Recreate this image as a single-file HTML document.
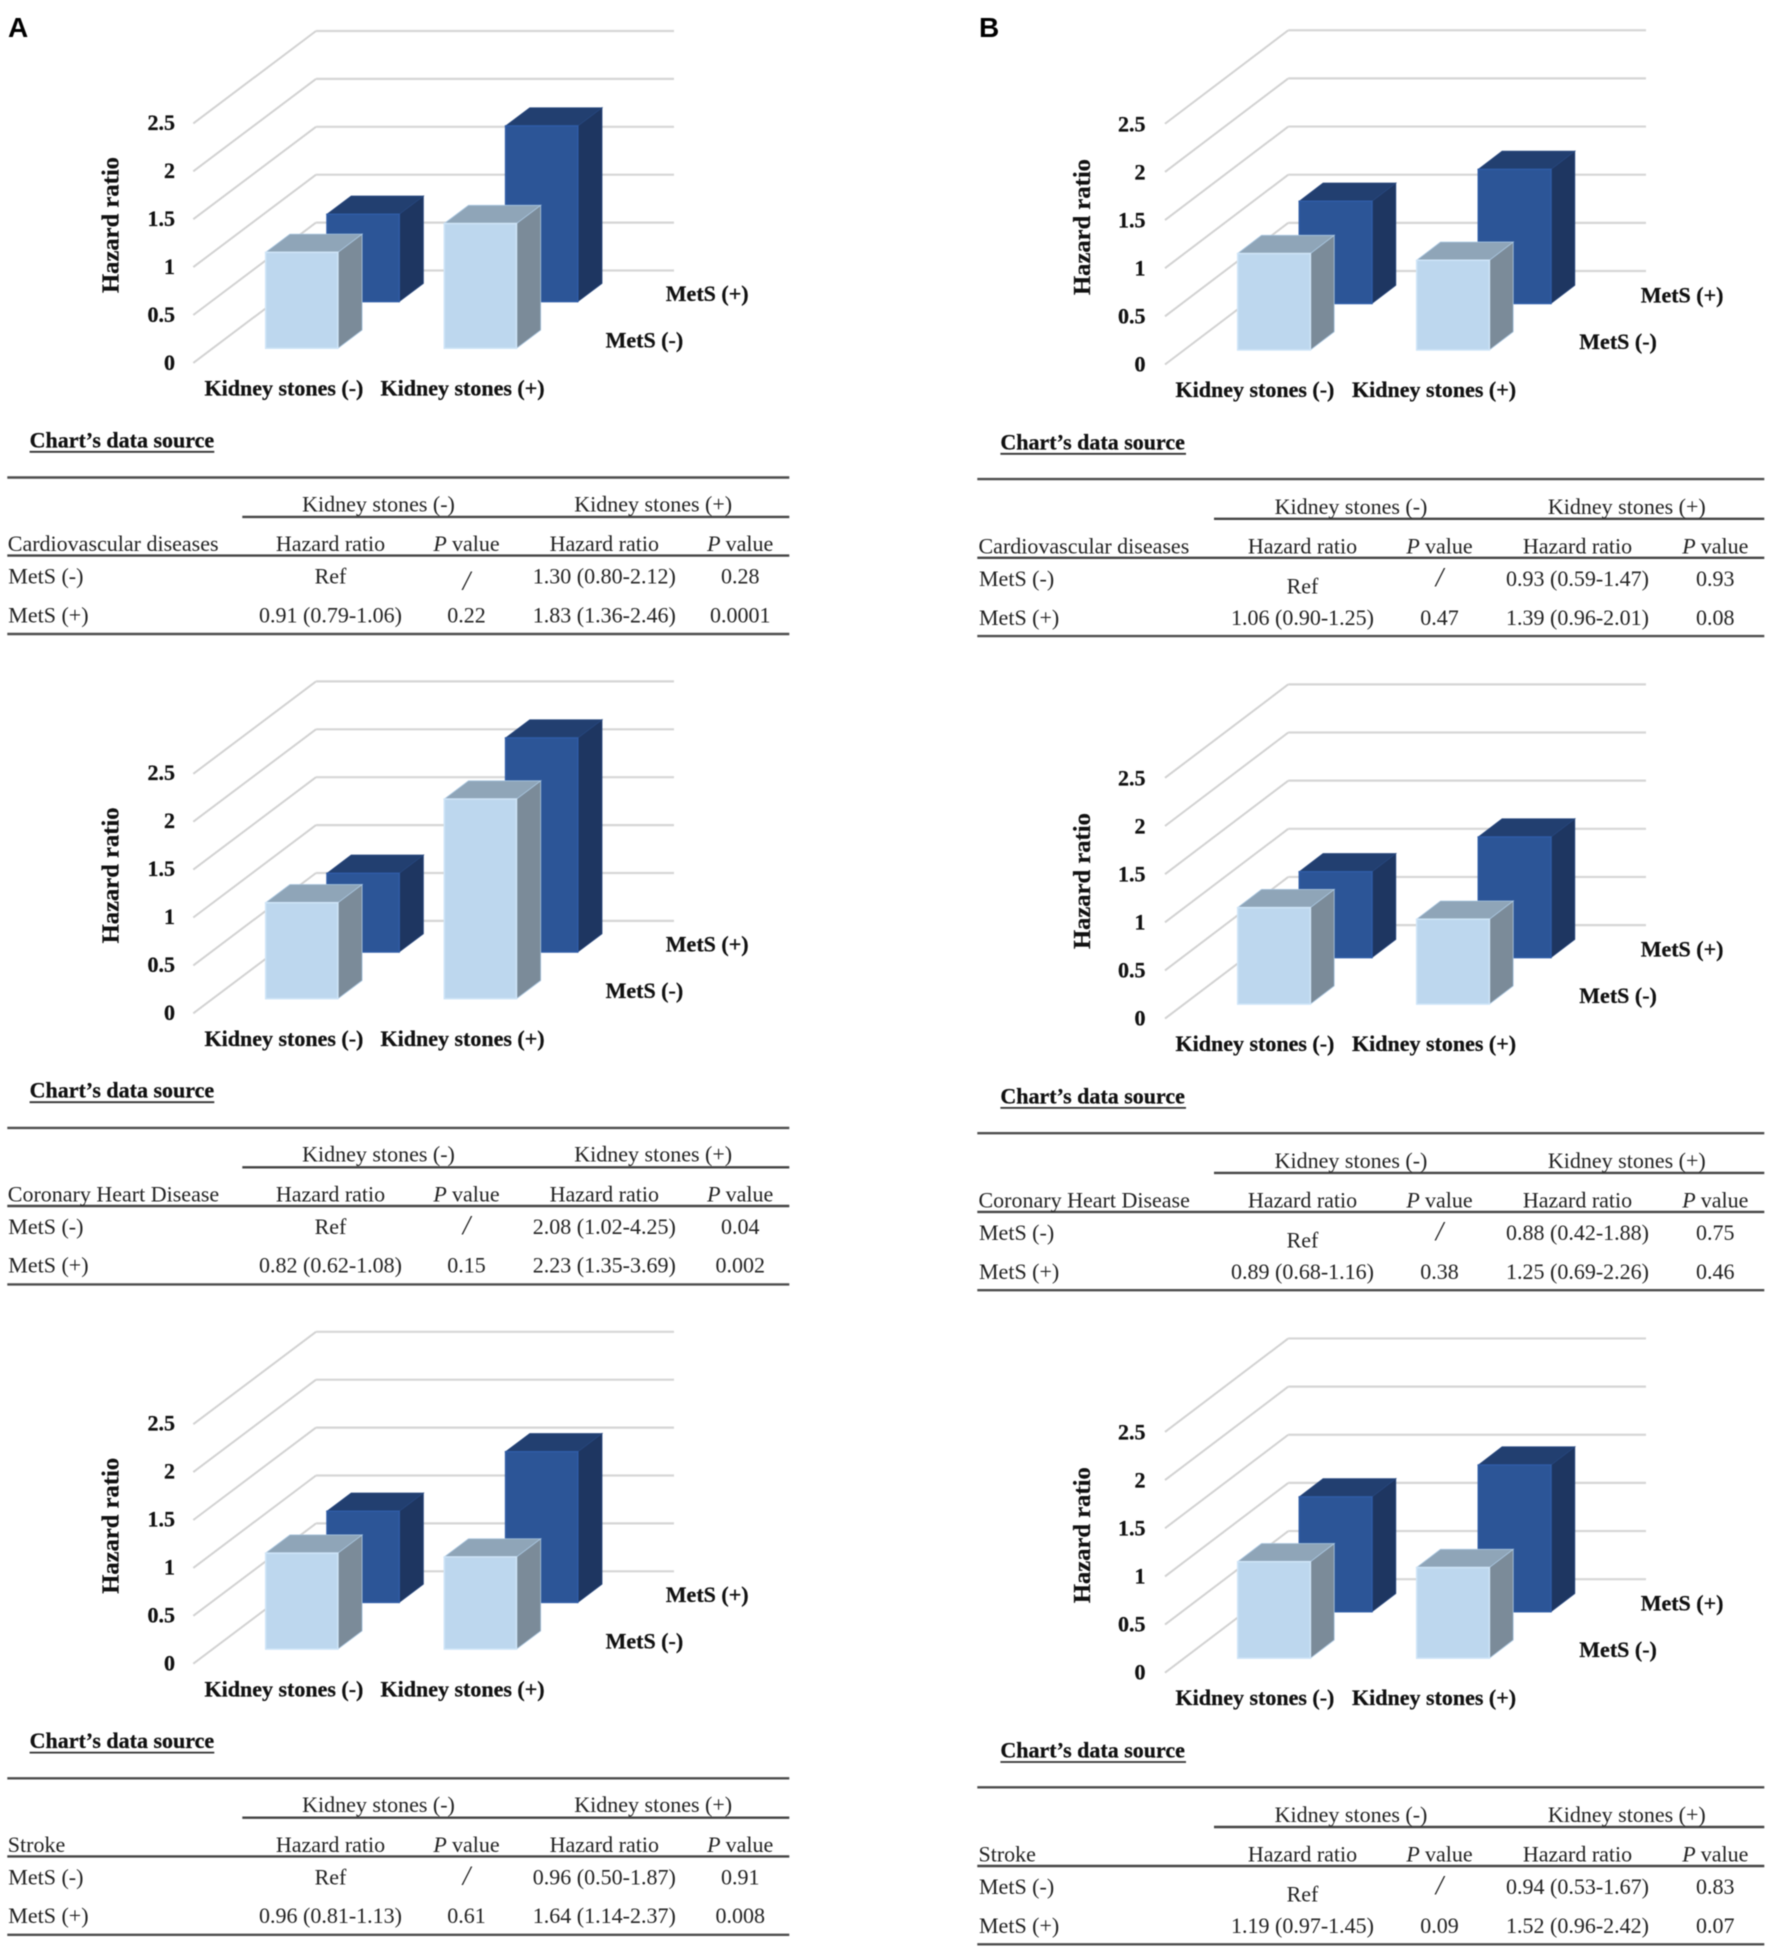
<!DOCTYPE html>
<html lang="en">
<head>
<meta charset="utf-8">
<title>Hazard ratio by kidney stones and MetS</title>
<style>
html,body{margin:0;padding:0;background:#fff;width:1772px;height:1954px;overflow:hidden}
svg{display:block;filter:blur(0.55px)}
text{font-family:"Liberation Serif",serif;fill:#111}
.b{font-weight:700;font-size:22px;stroke:#111;stroke-width:0.25px}
.r{font-size:22px;fill:#222}
</style>
</head>
<body>
<svg id="figure" xmlns="http://www.w3.org/2000/svg" width="1772" height="1954" viewBox="0 0 1772 1954"></svg>
<script>
// ---- Data ----
const categories = ['Kidney stones (-)', 'Kidney stones (+)'];
const seriesLabels = ['MetS (-)', 'MetS (+)'];
const yTickValues = [0, 0.5, 1, 1.5, 2, 2.5];
const yTickLabels = ['0', '0.5', '1', '1.5', '2', '2.5'];
const outcomes = ['Cardiovascular diseases', 'Coronary Heart Disease', 'Stroke'];
const columnHeads = ['Hazard ratio', 'value', 'Hazard ratio', 'value'];

const a1MetsNeg = [1, 1.30];
const a1MetsPos = [0.91, 1.83];
const a2MetsNeg = [1, 2.08];
const a2MetsPos = [0.82, 2.23];
const a3MetsNeg = [1, 0.96];
const a3MetsPos = [0.95, 1.57];
const b1MetsNeg = [1, 0.93];
const b1MetsPos = [1.06, 1.39];
const b2MetsNeg = [1, 0.88];
const b2MetsPos = [0.89, 1.25];
const b3MetsNeg = [1, 0.94];
const b3MetsPos = [1.19, 1.52];

const a1RowNeg = ['Ref', '/', '1.30 (0.80-2.12)', '0.28'];
const a1RowPos = ['0.91 (0.79-1.06)', '0.22', '1.83 (1.36-2.46)', '0.0001'];
const a2RowNeg = ['Ref', '/', '2.08 (1.02-4.25)', '0.04'];
const a2RowPos = ['0.82 (0.62-1.08)', '0.15', '2.23 (1.35-3.69)', '0.002'];
const a3RowNeg = ['Ref', '/', '0.96 (0.50-1.87)', '0.91'];
const a3RowPos = ['0.96 (0.81-1.13)', '0.61', '1.64 (1.14-2.37)', '0.008'];
const b1RowNeg = ['Ref', '/', '0.93 (0.59-1.47)', '0.93'];
const b1RowPos = ['1.06 (0.90-1.25)', '0.47', '1.39 (0.96-2.01)', '0.08'];
const b2RowNeg = ['Ref', '/', '0.88 (0.42-1.88)', '0.75'];
const b2RowPos = ['0.89 (0.68-1.16)', '0.38', '1.25 (0.69-2.26)', '0.46'];
const b3RowNeg = ['Ref', '/', '0.94 (0.53-1.67)', '0.83'];
const b3RowPos = ['1.19 (0.97-1.45)', '0.09', '1.52 (0.96-2.42)', '0.07'];

// ---- Layout (not data) ----
const layoutA = {
  panel: 'a', step: 650.4, unit: 96, gridUnit: 95.8, tickUnit: 96, gridBack: 316, gridRight: 674, gridFront: 193.3,
  floorBack: 270.5, floorFront: 362.9, barX: 265.7, groupStep: 178.6, darkDx: 61.3, barW: 72.2, depthX: 24.2,
  frontBase: 348.3, backBase: 301.6, tickX: 175, tickBase: 369.8, titleX: 118.7, titleY: 225,
  catX: [204.5, 380.5], catY: 395.6, legX: [605.6, 665.8], legY: [347.5, 301],
  srcX: 29.6, srcW: 184.7, srcY: 447.3, lineY: 451.8,
  ruleL: 7.3, ruleR: 789.3, subL: 242.3, ruleTop: 477.5, ruleSub: 516.9, ruleHead: 555.6, ruleBot: 634,
  ksX: [378.5, 653.2], ksY: 511.3, headY: 551, rowY: [583.6, 622.3], labelX: 8.3,
  colX: [330.5, 466.5, 604.3, 740.2], refDy: 0, slashDy: [6, 0, 0]
};
const layoutB = {
  panel: 'b', step: 654.1, unit: 96.5, gridUnit: 96.3, tickUnit: 96, tickAdj: 0, gridBack: 1288.3, gridRight: 1646, gridFront: 1165,
  floorBack: 271, floorFront: 364.5, barX: 1237.7, groupStep: 179, darkDx: 61.6, barW: 72.7, depthX: 23.8,
  frontBase: 350, backBase: 303.5, tickX: 1145.5, tickBase: 371.5, titleX: 1090, titleY: 227,
  catX: [1175.5, 1352], catY: 396.8, legX: [1579.3, 1640.7], legY: [349, 302.5],
  srcX: 1000.4, srcW: 185.6, srcY: 449.3, lineY: 453.8,
  ruleL: 977.3, ruleR: 1764.3, subL: 1214, ruleTop: 479.1, ruleSub: 518.8, ruleHead: 557.8, ruleBot: 636.1,
  ksX: [1351, 1626.8], ksY: 513.8, headY: 553.5, rowY: [585.8, 625], labelX: 979,
  colX: [1302.5, 1439.5, 1577.5, 1715.3], refDy: 7.5, slashDy: [0, 0, 0]
};

const panels = [
  { layout: layoutA, index: 0, neg: a1MetsNeg, pos: a1MetsPos, rowNeg: a1RowNeg, rowPos: a1RowPos },
  { layout: layoutA, index: 1, neg: a2MetsNeg, pos: a2MetsPos, rowNeg: a2RowNeg, rowPos: a2RowPos },
  { layout: layoutA, index: 2, neg: a3MetsNeg, pos: a3MetsPos, rowNeg: a3RowNeg, rowPos: a3RowPos },
  { layout: layoutB, index: 0, neg: b1MetsNeg, pos: b1MetsPos, rowNeg: b1RowNeg, rowPos: b1RowPos },
  { layout: layoutB, index: 1, neg: b2MetsNeg, pos: b2MetsPos, rowNeg: b2RowNeg, rowPos: b2RowPos },
  { layout: layoutB, index: 2, neg: b3MetsNeg, pos: b3MetsPos, rowNeg: b3RowNeg, rowPos: b3RowPos }
];

const NS = 'http://www.w3.org/2000/svg';
const DEPTH_Y = 18.2, BAR_COLORS = {
  light: { front: '#bdd7ee', top: '#8fa5b8', side: '#7b8b99', edge: '#cfe5f8', outline: '#a9c6e0' },
  dark: { front: '#2c5597', top: '#223f70', side: '#1e3661', edge: '#2f5ca6', outline: '#27477e' }
};
const root = document.getElementById('figure');

function make(parent, tag, attrs, text) {
  const el = document.createElementNS(NS, tag);
  for (const k in attrs) el.setAttribute(k, attrs[k]);
  if (text !== undefined) el.textContent = text;
  parent.appendChild(el);
  return el;
}

function drawLine(parent, x1, y1, x2, y2, color, width, name) {
  const el = make(parent, 'line', { x1, y1, x2, y2, stroke: color, 'stroke-width': width });
  
  
  return el;
}

function drawLabel(parent, x, y, cls, anchor, str, name) {
  const el = make(parent, 'text', { x, y, class: cls, 'text-anchor': anchor }, str);
  
  
  return el;
}

function drawBar(parent, x, base, value, unit, width, depthX, colors, name) {
  const top = base - value * unit;
  const right = x + width;
  const g = make(parent, 'g', {});
  
  
  make(g, 'polygon', { fill: colors.side, stroke: colors.outline, 'stroke-width': 0.8, points: `${right},${top} ${right + depthX},${top - DEPTH_Y} ${right + depthX},${base - DEPTH_Y} ${right},${base}` });
  make(g, 'polygon', { fill: colors.top, stroke: colors.outline, 'stroke-width': 0.8, points: `${x},${top} ${x + depthX},${top - DEPTH_Y} ${right + depthX},${top - DEPTH_Y} ${right},${top}` });
  make(g, 'rect', { fill: colors.front, stroke: colors.edge, 'stroke-width': 1.5, x, y: top, width, height: value * unit });
}

function drawChart(p) {
  const L = p.layout;
  const dy = L.step * p.index;
  const yBack = v => L.floorBack + dy - v * L.gridUnit;
  const yFront = v => L.floorFront + dy - v * L.gridUnit;
  const yTick = v => L.tickBase + dy - v * L.tickUnit;
  const g = make(root, 'g', {});
  
  

  yTickValues.forEach((v, i) => {
    drawLine(g, L.gridFront, yFront(v), L.gridBack, yBack(v), '#d2d2d2', 2, `side-gridline-${yTickLabels[i]}`);
    drawLine(g, L.gridBack, yBack(v), L.gridRight, yBack(v), '#d6d6d6', 2.2, `back-gridline-${yTickLabels[i]}`);
    drawLabel(g, L.tickX, yTick(v), 'b', 'end', yTickLabels[i], `y-tick-${yTickLabels[i]}`);
  });

  p.pos.forEach((v, i) => {
    drawBar(g, L.barX + i * L.groupStep + L.darkDx, L.backBase + dy, v, L.unit, L.barW, L.depthX, BAR_COLORS.dark, `bar-mets-pos-${i + 1}`);
  });
  p.neg.forEach((v, i) => {
    drawBar(g, L.barX + i * L.groupStep, L.frontBase + dy, v, L.unit, L.barW, L.depthX, BAR_COLORS.light, `bar-mets-neg-${i + 1}`);
  });

  const title = make(g, 'text', {
    class: 'b', 'text-anchor': 'middle', style: 'font-size:24.6px',
    transform: `translate(${L.titleX},${L.titleY + dy}) rotate(-90)`
  }, 'Hazard ratio');
  
  

  categories.forEach((c, i) => {
    drawLabel(g, L.catX[i], L.catY + dy, 'b', 'start', c, `category-label-${i + 1}`);
  });
  seriesLabels.forEach((s, i) => {
    drawLabel(g, L.legX[i], L.legY[i] + dy, 'b', 'start', s, `series-label-${i + 1}`);
  });

  const src = make(g, 'text', { x: L.srcX, y: L.srcY + dy, class: 'b' }, 'Chart\u2019s data source');
  
  
  drawLine(g, L.srcX, L.lineY + dy, L.srcX + L.srcW, L.lineY + dy, '#333', 1.8, 'data-source-underline');
}

function drawTable(p) {
  const L = p.layout;
  const dy = L.step * p.index;
  const g = make(root, 'g', {});
  
  

  drawLine(g, L.ruleL, L.ruleTop + dy, L.ruleR, L.ruleTop + dy, '#4d4d4d', 2.4, 'table-top-rule');
  drawLine(g, L.subL, L.ruleSub + dy, L.ruleR, L.ruleSub + dy, '#444', 2.4, 'table-group-rule');
  drawLine(g, L.ruleL, L.ruleHead + dy, L.ruleR, L.ruleHead + dy, '#444', 2.4, 'table-head-rule');
  drawLine(g, L.ruleL, L.ruleBot + dy, L.ruleR, L.ruleBot + dy, '#4d4d4d', 2.4, 'table-bottom-rule');

  categories.forEach((c, i) => {
    drawLabel(g, L.ksX[i], L.ksY + dy, 'r', 'middle', c, `group-head-${i + 1}`);
  });
  drawLabel(g, L.labelX - 0.5, L.headY + dy, 'r', 'start', outcomes[p.index], 'outcome-head');

  columnHeads.forEach((h, i) => {
    const t = drawLabel(g, L.colX[i], L.headY + dy, 'r', 'middle', '', `column-head-${i + 1}`);
    if (h === 'value') {
      make(t, 'tspan', { 'font-style': 'italic' }, 'P ');
      make(t, 'tspan', {}, h);
    } else {
      t.textContent = h;
    }
  });

  seriesLabels.forEach((s, r) => {
    const y = L.rowY[r] + dy;
    drawLabel(g, L.labelX, y, 'r', 'start', s, `row-label-${r + 1}`);
    const cells = r === 0 ? p.rowNeg : p.rowPos;
    cells.forEach((c, i) => {
      let cy = y;
      if (c === 'Ref') cy += L.refDy;
      if (c === '/') cy += L.slashDy[p.index];
      const cell = drawLabel(g, L.colX[i], cy, 'r', 'middle', c, `cell-r${r + 1}-c${i + 1}`);
      if (c === '/') cell.setAttribute('style', 'font-size:27px;font-style:italic');
    });
  });
}

panels.forEach(p => { drawChart(p); drawTable(p); });

const labelA = make(root, 'text', { x: 8, y: 37, style: 'font-family:"Liberation Sans",sans-serif;font-weight:700;font-size:28px;fill:#000' }, 'A');


const labelB = make(root, 'text', { x: 979, y: 37, style: 'font-family:"Liberation Sans",sans-serif;font-weight:700;font-size:28px;fill:#000' }, 'B');


</script>
</body>
</html>
